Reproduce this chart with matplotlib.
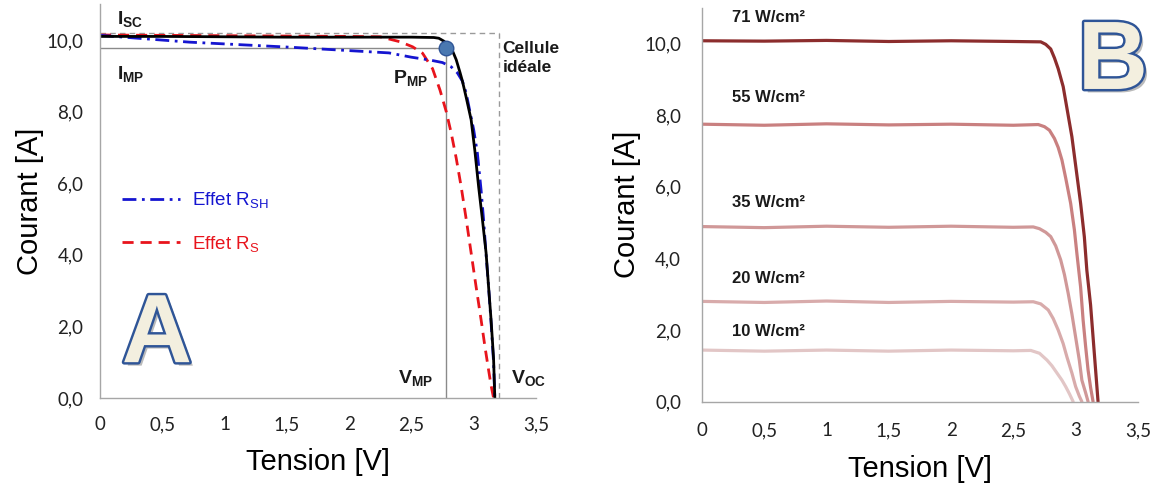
import matplotlib
matplotlib.use("Agg")
import matplotlib.pyplot as plt
import matplotlib.patheffects as pe

plt.rcParams['mathtext.fontset'] = 'custom'
plt.rcParams['mathtext.rm'] = 'Liberation Sans'
plt.rcParams['mathtext.bf'] = 'Liberation Sans:bold'
plt.rcParams['mathtext.it'] = 'Liberation Sans:italic'

# --- panel A : effect of series / shunt resistance ---
v_ideal = [0, 0.5, 1.0, 1.5, 2.0, 2.5, 2.68, 2.72, 2.76, 2.80, 2.83, 2.86, 2.89, 2.91, 2.94, 2.98,
           3.01, 3.04, 3.07, 3.10, 3.12, 3.14, 3.16, 3.17]
i_ideal = [10.1, 10.1, 10.09, 10.08, 10.08, 10.08, 10.07, 10.05, 9.97, 9.85, 9.7, 9.45, 9.1, 8.85, 8.4, 7.77,
           6.9, 5.9, 5.0, 4.05, 3.1, 2.18, 1.1, 0.0]

v_rsh = [0, 0.72, 1.52, 2.32, 2.50, 2.65, 2.75, 2.82, 2.87, 2.91, 2.94, 2.97, 3.00, 3.03, 3.06,
         3.08, 3.10, 3.12, 3.14, 3.16, 3.17]
i_rsh = [10.13, 9.94, 9.8, 9.64, 9.52, 9.44, 9.37, 9.25, 9.08, 8.85, 8.52, 8.0, 7.5, 6.84, 5.8,
         4.97, 4.0, 3.1, 2.1, 1.0, 0.0]

v_rs = [0, 1.0, 2.0, 2.25, 2.41, 2.51, 2.59, 2.67, 2.73, 2.78, 2.82, 2.86, 2.90, 2.94, 2.98,
        3.02, 3.06, 3.09, 3.12, 3.14, 3.16]
i_rs = [10.14, 10.12, 10.1, 10.09, 9.95, 9.81, 9.63, 9.2, 8.6, 8.0, 7.4, 6.7, 5.9, 5.0, 4.05,
        3.1, 2.18, 1.45, 0.78, 0.35, 0.0]

isc = 10.2
voc = 3.2
imp = 9.78
vmp = 2.78

# --- panel B : irradiance ---
irr_labels = ['71 W/cm²', '55 W/cm²', '35 W/cm²', '20 W/cm²', '10 W/cm²']
irr_label_y = [10.74, 8.5, 5.57, 3.45, 1.97]
irr_colors = ['#8c2d2d', '#c98080', '#d09898', '#d8abab', '#e2c6c6']

v71 = [0, 0.5, 1.0, 1.5, 2.0, 2.5, 2.72, 2.76, 2.80, 2.83, 2.86, 2.90, 2.93, 2.97, 3.00, 3.04,
       3.07, 3.09, 3.12, 3.14, 3.16, 3.18]
i71 = [10.08, 10.07, 10.09, 10.06, 10.08, 10.06, 10.05, 9.98, 9.85, 9.6, 9.3, 8.8, 8.2, 7.4, 6.6, 5.54,
       4.6, 3.67, 2.7, 1.8, 0.9, 0.0]
v55 = [0, 0.5, 1.0, 1.5, 2.0, 2.5, 2.70, 2.75, 2.79, 2.83, 2.86, 2.89, 2.92, 2.96, 2.99, 3.01,
       3.04, 3.06, 3.08, 3.10, 3.12, 3.14]
i55 = [7.75, 7.72, 7.76, 7.73, 7.75, 7.72, 7.74, 7.68, 7.58, 7.35, 7.1, 6.75, 6.25, 5.54, 4.8, 4.14,
       3.2, 2.28, 1.55, 0.88, 0.4, 0.0]
v35 = [0, 0.5, 1.0, 1.5, 2.0, 2.5, 2.66, 2.71, 2.76, 2.80, 2.84, 2.88, 2.91, 2.94, 2.97, 3.00,
       3.03, 3.05, 3.08, 3.10]
i35 = [4.89, 4.86, 4.9, 4.87, 4.9, 4.87, 4.88, 4.83, 4.73, 4.61, 4.35, 3.96, 3.55, 3.03, 2.45, 1.8,
       1.15, 0.6, 0.25, 0.0]
v20 = [0, 0.5, 1.0, 1.5, 2.0, 2.5, 2.66, 2.72, 2.78, 2.82, 2.86, 2.90, 2.93, 2.97, 3.00, 3.03, 3.05]
i20 = [2.8, 2.77, 2.81, 2.77, 2.8, 2.78, 2.79, 2.73, 2.56, 2.32, 2.0, 1.62, 1.25, 0.8, 0.42, 0.15, 0.0]
v10 = [0, 0.5, 1.0, 1.5, 2.0, 2.5, 2.64, 2.71, 2.77, 2.81, 2.85, 2.89, 2.92, 2.95, 2.98]
i10 = [1.44, 1.41, 1.44, 1.41, 1.44, 1.42, 1.43, 1.35, 1.16, 1.0, 0.8, 0.6, 0.42, 0.22, 0.0]
irr_v = [v71, v55, v35, v20, v10]
irr_i = [i71, i55, i35, i20, i10]

xticks = [0, 0.5, 1, 1.5, 2, 2.5, 3, 3.5]
xticklabels = ['0', '0,5', '1', '1,5', '2', '2,5', '3', '3,5']
yticks = [0, 2, 4, 6, 8, 10]
yticklabels = ['0,0', '2,0', '4,0', '6,0', '8,0', '10,0']

fig = plt.figure(figsize=(11.57, 4.84), dpi=100)
axA = fig.add_axes([0.0864, 0.1777, 0.3768, 0.8136])
axB = fig.add_axes([0.6067, 0.1702, 0.3768, 0.8136])


def style_axis(ax, xpad, ypad):
    ax.set_xlim(0, 3.5)
    ax.set_ylim(0, 11)
    ax.set_xticks(xticks)
    ax.set_xticklabels(xticklabels)
    ax.set_yticks(yticks)
    ax.set_yticklabels(yticklabels)
    for s in ['top', 'right']:
        ax.spines[s].set_visible(False)
    for s in ['left', 'bottom']:
        ax.spines[s].set_color('#a6a6a6')
        ax.spines[s].set_linewidth(1)
    ax.tick_params(axis='x', length=0, pad=xpad, labelsize=13.5, labelcolor='#222222')
    ax.tick_params(axis='y', length=0, pad=ypad, labelsize=13.5, labelcolor='#222222')
    for lab in ax.get_xticklabels() + ax.get_yticklabels():
        lab.set_family('Lato')
    ax.set_xlabel('Tension [V]', fontsize=21, family='Liberation Sans', labelpad=11)
    ax.set_ylabel('Courant [A]', fontsize=21, family='Liberation Sans', labelpad=2)


def big_letter(ax, x, y, s):
    ax.text(x, y, s, transform=ax.transAxes, fontsize=70, fontweight='bold',
            family='Liberation Sans', color='#f3efdf', ha='left', va='baseline',
            path_effects=[pe.SimplePatchShadow(offset=(2.5, -2.5), shadow_rgbFace='#777777', alpha=0.5),
                          pe.Stroke(linewidth=3.5, foreground='#2f5597'),
                          pe.Normal()])


# ---------- panel A ----------
style_axis(axA, 13, 12)
axA.plot([0, voc], [isc, isc], color='#9a9a9a', lw=1, ls=(0, (4, 3)))
axA.plot([voc, voc], [0, isc], color='#9a9a9a', lw=1, ls=(0, (4, 3)))
axA.plot([0, vmp], [imp, imp], color='#8a8a8a', lw=1)
axA.plot([vmp, vmp], [0, imp], color='#8a8a8a', lw=1)
axA.plot(v_rs, i_rs, color='#e8141c', lw=2, ls=(0, (4, 2.5)), label=r'Effet R$_{\mathrm{S}}$')
axA.plot(v_rsh, i_rsh, color='#1515d0', lw=2, ls=(0, (5, 2, 1, 2)), label=r'Effet R$_{\mathrm{SH}}$')
axA.plot(v_ideal, i_ideal, color='black', lw=2)
axA.scatter([vmp], [imp], s=110, color='#4a78b0', edgecolor='#2f5597', linewidth=1, zorder=5)

bold = dict(fontsize=14, family='Liberation Sans', fontweight='bold', color='#1a1a1a')
axA.text(0.14, 10.6, r'$\mathbf{I}_{\mathbf{SC}}$', ha='left', va='center', **bold)
axA.text(0.14, 9.05, r'$\mathbf{I}_{\mathbf{MP}}$', ha='left', va='center', **bold)
axA.text(2.35, 8.95, r'$\mathbf{P}_{\mathbf{MP}}$', ha='left', va='center', **bold)
axA.text(2.39, 0.55, r'$\mathbf{V}_{\mathbf{MP}}$', ha='left', va='center', **bold)
axA.text(3.3, 0.55, r'$\mathbf{V}_{\mathbf{OC}}$', ha='left', va='center', **bold)
axA.text(3.23, 9.5, 'Cellule\nidéale', ha='left', va='center', fontsize=12.5,
         family='Liberation Sans', fontweight='bold', color='#1a1a1a', linespacing=1.4)

h, l = axA.get_legend_handles_labels()
leg = axA.legend(h[::-1], l[::-1], loc='upper left', bbox_to_anchor=(0.05, 0.527), frameon=False,
                 borderpad=0, borderaxespad=0,
                 handlelength=3.1, labelspacing=1.25, handletextpad=0.65,
                 prop={'family': 'Liberation Sans', 'size': 13.5},
                 labelcolor=['#1515d0', '#e8141c'])
big_letter(axA, 0.05, 0.091, 'A')

# ---------- panel B ----------
style_axis(axB, 15, 15)
for v, i, c in zip(irr_v, irr_i, irr_colors):
    axB.plot(v, i, color=c, lw=2.3, solid_capstyle='round', solid_joinstyle='round')
for lab, y in zip(irr_labels, irr_label_y):
    axB.text(0.24, y, lab, ha='left', va='center', fontsize=12, fontweight='bold',
             family='Liberation Sans', color='#1a1a1a')
big_letter(axB, 0.862, 0.794, 'B')

fig.savefig('out.png', dpi=100)
